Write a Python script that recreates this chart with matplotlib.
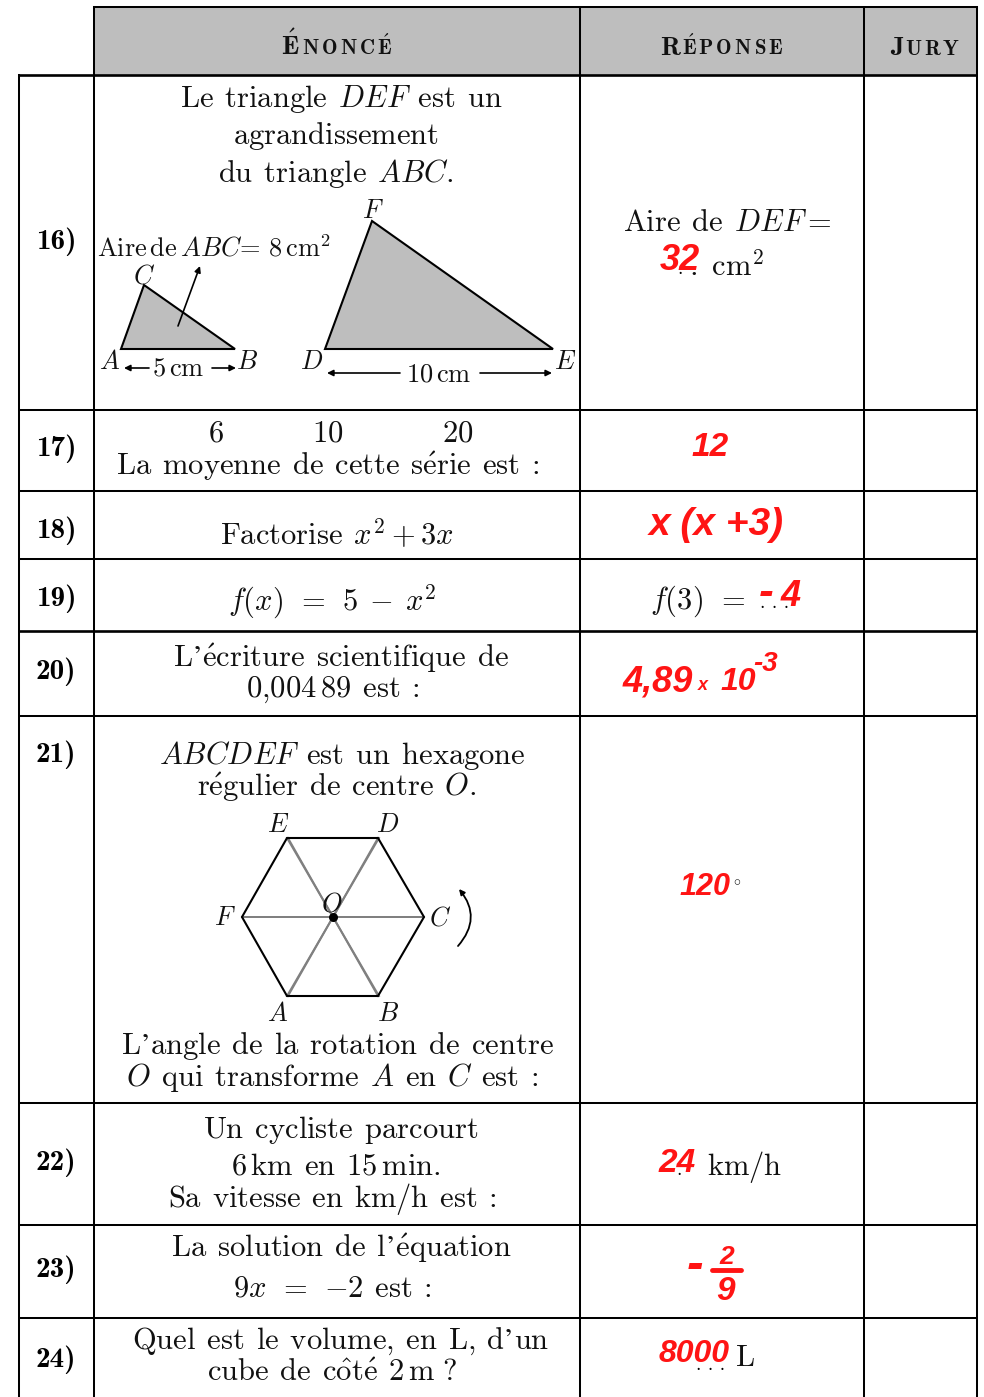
import matplotlib
matplotlib.use('Agg')
import matplotlib.pyplot as plt
from matplotlib.patches import Polygon, Rectangle, FancyArrowPatch

plt.rcParams['mathtext.fontset'] = 'cm'
plt.rcParams['font.family'] = ['cmr10', 'DejaVu Serif']
plt.rcParams['axes.formatter.use_mathtext'] = True

# grille du tableau (pixels)
col_x = [19, 94, 580, 864, 977]
row_y = [75, 410, 491, 559, 631, 716, 1103, 1225, 1318]
header_top = 7

numeros = ['16)', '17)', '18)', '19)', '20)', '21)', '22)', '23)', '24)']
numeros_y = [242, 449, 531, 599, 672, 755, 1163, 1270, 1360]

# enonces : (x, y, texte, taille)
enonces = [
    (341, 99, r'$\mathrm{Le\>\>triangle}\>\>DEF\>\>\mathrm{est\>\>un}$', 22),
    (336, 136, r'$\mathrm{agrandissement}$', 22),
    (336, 173, r'$\mathrm{du\>\>triangle}\>\>ABC.$', 22),
    (216, 434, r'$6$', 22),
    (328, 434, r'$10$', 22),
    (458, 434, r'$20$', 22),
    (328, 466, r'$\mathrm{La\>\>moyenne\>\>de\>\>cette\>\>s\acute{e}rie\>\>est\>:}$', 22),
    (337, 534, r'$\mathrm{Factorise}\>\>x^2+3x$', 22),
    (332, 602, r'$f(x)\>\>=\>\>5\>\>-\>\>x^2$', 22),
    (341, 658, r"$\mathrm{L’\acute{e}criture\>\>scientifique\>\>de}$", 22),
    (333, 690, r'$\mathrm{0{,}004\,89\>\>est\>:}$', 22),
    (342, 755, r'$ABCDEF\>\>\mathrm{est\>\>un\>\>hexagone}$', 22),
    (337, 787, r'$\mathrm{r\acute{e}gulier\>\>de\>\>centre}\>\>O.$', 22),
    (337, 1046, r"$\mathrm{L’angle\>\>de\>\>la\>\>rotation\>\>de\>\>centre}$", 22),
    (332, 1078, r'$O\>\>\mathrm{qui\>\>transforme}\>\>A\>\>\mathrm{en}\>\>C\>\>\mathrm{est\>:}$', 22),
    (341, 1130, r'$\mathrm{Un\>\>cycliste\>\>parcourt}$', 22),
    (336, 1167, r'$\mathrm{6\,km\>\>en\>\>15\,min.}$', 22),
    (332, 1199, r'$\mathrm{Sa\>\>vitesse\>\>en\>\>km/h\>\>est\>:}$', 22),
    (341, 1248, r"$\mathrm{La\>\>solution\>\>de\>\>l’\acute{e}quation}$", 22),
    (332, 1289, r'$9x\>\>=\>\>-2\>\>\mathrm{est\>:}$', 22),
    (341, 1341, r"$\mathrm{Quel\>\>est\>\>le\>\>volume,\>en\>\>L,\>d’un}$", 22),
    (332, 1373, r'$\mathrm{cube\>\>de\>\>c\hat{o}t\acute{e}\>\>2\,m\ ?}$', 22),
]

# reponses imprimees
reponses = [
    (727, 223, r'$\mathrm{Aire\>\>de}\>\>DEF=$', 22),
    (726, 266, r'$.\ \mathrm{cm}^2$', 22),
    (698, 601, r'$f(3)\>\>=$', 22),
    (745, 1167, r'$\mathrm{km/h}$', 22),
    (745, 1358, r'$\mathrm{L}$', 22),
]
pointilles = [(680, 274), (775, 608), (679, 1175), (711, 1370)]
pointilles_txt = ['.', '. . .', '.', '. . .']

# reponses manuscrites : (x, y, texte, taille)
manuscrit = [
    (680, 260, '32', 26),
    (710, 447, '12', 24),
    (716, 525, 'x (x +3)', 28),
    (791, 597, '4', 26),
    (766, 594, '-', 32),
    (658, 682, '4,89', 26),
    (703, 686, 'x', 13),
    (738, 682, '10', 23),
    (766, 664, '-3', 20),
    (677, 1163, '24', 24),
    (705, 887, '120', 22),
    (695, 1266, '-', 36),
    (727, 1257, '2', 19),
    (726, 1291, '9', 24),
    (694, 1354, '8000', 23),
]
trait_fraction = [(712, 1270), (741, 1270)]

# figures du 16)
tri_abc = [(121, 349), (235, 349), (144, 285)]
tri_def = [(325, 349), (553, 349), (372, 221)]
fleches_16 = [
    ((178, 326), (200, 266)),
    ((149, 368), (124, 368)),
    ((212, 368), (236, 368)),
    ((400, 373), (327, 373)),
    ((480, 373), (552, 373)),
]
etiquettes_16 = [
    (110, 362, r'$A$'), (247, 362, r'$B$'), (144, 276, r'$C$'),
    (312, 362, r'$D$'), (565, 362, r'$E$'), (373, 211, r'$F$'),
]
etiquettes_mesures = [
    (214, 248, r'$\mathrm{Aire\,de}\,ABC\!=\,8\,\mathrm{cm}^2$', 19),
    (178, 369, r'$\mathrm{5\,cm}$', 19),
    (439, 375, r'$\mathrm{10\,cm}$', 19),
]

# hexagone du 21)
hexagone = [(287, 996), (378, 996), (424, 917), (378, 838), (287, 838), (242, 917)]
centre = (333, 917)
etiquettes_hex = [
    (278, 1014, r'$A$'), (388, 1014, r'$B$'), (440, 918, r'$C$'),
    (388, 825, r'$D$'), (278, 825, r'$E$'), (225, 918, r'$F$'), (332, 904, r'$O$'),
]

fig = plt.figure(figsize=(9.84, 13.97), dpi=100)
ax = fig.add_axes([0, 0, 1, 1])
ax.set_xlim(0, 984)
ax.set_ylim(1397, 0)
ax.axis('off')

ax.add_patch(Rectangle((col_x[1], header_top), col_x[4] - col_x[1], row_y[0] - header_top,
                       fc='#bebebe', ec='none', zorder=0))

# traits du tableau
for i, y in enumerate(row_y):
    lw = 1.9 if i in (0, 4) else 1.45
    ax.plot([col_x[0], col_x[4]], [y, y], color='black', lw=lw, solid_capstyle='butt')
ax.plot([col_x[1], col_x[4]], [header_top, header_top], color='black', lw=1.45)
ax.plot([col_x[0], col_x[0]], [row_y[0], 1397], color='black', lw=1.45)
for x in col_x[1:]:
    ax.plot([x, x], [header_top, 1397], color='black', lw=1.45)

# en-tetes petites capitales
def entete(x, lettres):
    for dx, s, fs in lettres:
        ax.text(x + dx, 55, s, fontsize=fs, ha='left', va='baseline', color='#111111')

entete(281, [(0, r'$\mathbf{\acute{E}}$', 19), (21, r'$\mathbf{N\,O\,N\,C\,\acute{E}}$', 15)])
entete(660, [(0, r'$\mathbf{R}$', 19), (22, r'$\mathbf{\acute{E}\,P\,O\,N\,S\,E}$', 15)])
entete(890, [(0, r'$\mathbf{J}$', 19), (15, r'$\mathbf{U\,R\,Y}$', 15)])

for n, y in zip(numeros, numeros_y):
    ax.text(56, y, n, fontsize=21, ha='center', va='center', family=['cmb10', 'DejaVu Serif'])

for x, y, s, fs in enonces + reponses:
    ax.text(x, y, s, fontsize=fs, ha='center', va='center', color='#111111')

for (x, y), s in zip(pointilles, pointilles_txt):
    ax.text(x, y, s, fontsize=14, ha='center', va='baseline', color='black')

for x, y, s, fs in manuscrit:
    ax.text(x, y, s, fontsize=fs, ha='center', va='center', color='#ff1414',
            family='Liberation Sans', weight='bold', style='italic')
ax.plot(*zip(*trait_fraction), color='#ff1414', lw=3.5, solid_capstyle='round')
ax.text(737, 882, r'$\circ$', fontsize=10, ha='center', va='center', color='black')

# triangles
for tri in (tri_abc, tri_def):
    ax.add_patch(Polygon(tri, closed=True, fc='#bebebe', ec='black', lw=1.5, joinstyle='miter'))
for a, b in fleches_16:
    ax.add_patch(FancyArrowPatch(a, b, arrowstyle='-|>', mutation_scale=9, lw=1.2,
                                 color='black', shrinkA=0, shrinkB=0))
for x, y, s in etiquettes_16:
    ax.text(x, y, s, fontsize=19, ha='center', va='center', color='#111111')
for x, y, s, fs in etiquettes_mesures:
    ax.text(x, y, s, fontsize=fs, ha='center', va='center', color='#111111')

# hexagone
for p in hexagone:
    q = (2 * centre[0] - p[0], 2 * centre[1] - p[1])
    ax.plot([p[0], q[0]], [p[1], q[1]], color='#808080', lw=1.4, zorder=2)
ax.add_patch(Polygon(hexagone, closed=True, fc='none', ec='black', lw=1.5, zorder=3))
ax.scatter(*centre, s=30, color='black', zorder=4)
for x, y, s in etiquettes_hex:
    ax.text(x, y, s, fontsize=19, ha='center', va='center', color='#111111', zorder=5)
ax.add_patch(FancyArrowPatch((458, 946), (459, 889), connectionstyle='arc3,rad=0.42',
                             arrowstyle='-|>', mutation_scale=8, lw=1.3, color='black',
                             shrinkA=0, shrinkB=0))

fig.savefig('out.png', dpi=100)
